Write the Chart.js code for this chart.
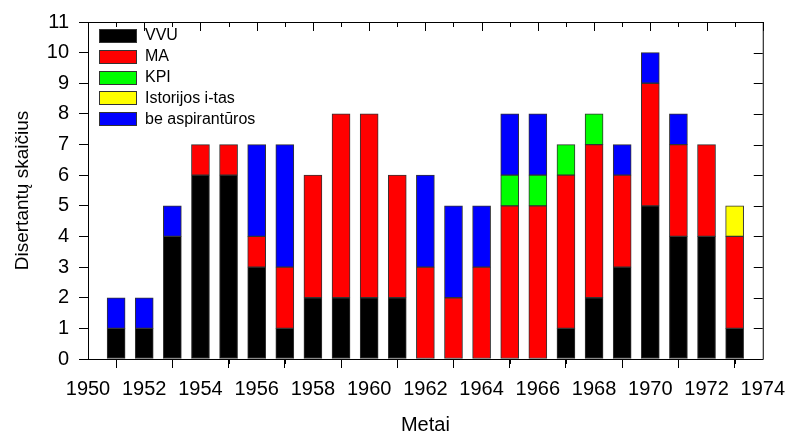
<!DOCTYPE html>
<html>
<head>
<meta charset="utf-8">
<script src="https://cdn.jsdelivr.net/npm/chart.js@4/dist/chart.umd.min.js"></script>
<style>
html,body{margin:0;padding:0;background:#fff;}
canvas{display:block;}
</style>
</head>
<body>
<canvas id="c" width="794" height="434"></canvas>
<script>
const years = [1951,1952,1953,1954,1955,1956,1957,1958,1959,1960,1961,1962,1963,1964,1965,1966,1967,1968,1969,1970,1971,1972,1973];
const vvu   = [1,1,4,6,6,3,1,2,2,2,2,0,0,0,0,0,1,2,3,5,4,4,1];
const ma    = [0,0,0,1,1,1,2,4,6,6,4,3,2,3,5,5,5,5,3,4,3,3,3];
const kpi   = [0,0,0,0,0,0,0,0,0,0,0,0,0,0,1,1,1,1,0,0,0,0,0];
const ist   = [0,0,0,0,0,0,0,0,0,0,0,0,0,0,0,0,0,0,0,0,0,0,1];
const be    = [1,1,1,0,0,3,4,0,0,0,0,3,3,2,2,2,0,0,1,1,1,0,0];
const seriesNames = ['VVU','MA','KPI','Istorijos i-tas','be aspirantūros'];
const seriesColors = ['#000000','#ff0000','#00ff00','#ffff00','#0000ff'];
const seriesValues = [vvu, ma, kpi, ist, be];

const FONT = "'Liberation Sans', Arial, sans-serif";

const datasets = seriesValues.map((vals, k) => ({
  label: seriesNames[k],
  data: years.map((yr, i) => ({x: yr, y: vals[i]})),
  backgroundColor: seriesColors[k],
  borderColor: '#333333',
  borderWidth: 1,
  borderSkipped: false,
  barThickness: 18
}));

const framePlugin = {
  id: 'frame',
  afterDraw(chart) {
    const ctx = chart.ctx;
    const a = chart.chartArea;
    const xs = chart.scales.x, ys = chart.scales.y;
    ctx.save();
    ctx.strokeStyle = '#000';
    ctx.lineWidth = 1;
    ctx.beginPath();
    ctx.rect(a.left + 0.5, a.top + 0.5, a.right - a.left, a.bottom - a.top);
    ctx.stroke();
    ctx.beginPath();
    xs.ticks.forEach(t => {
      const px = Math.round(xs.getPixelForValue(t.value)) + 0.5;
      ctx.moveTo(px, a.top); ctx.lineTo(px, a.top + 9);
      const mv = t.value + 1;
      if (mv < xs.max) {
        const mx = Math.round(xs.getPixelForValue(mv)) + 0.5;
        ctx.moveTo(mx, a.top); ctx.lineTo(mx, a.top + 5);
        ctx.moveTo(mx, a.bottom); ctx.lineTo(mx, a.bottom + 5);
      }
    });
    ys.ticks.forEach(t => {
      const py = Math.round(ys.getPixelForValue(t.value)) + 0.5;
      ctx.moveTo(a.right, py); ctx.lineTo(a.right - 9, py);
    });
    ctx.stroke();
    // legend
    ctx.font = '16px ' + FONT;
    ctx.textBaseline = 'middle';
    ctx.textAlign = 'left';
    chart.data.datasets.forEach((ds, i) => {
      const cy = 35 + i * 20.8;
      ctx.fillStyle = ds.backgroundColor;
      ctx.fillRect(99, Math.round(cy - 6), 37, 13);
      ctx.strokeStyle = '#333';
      ctx.strokeRect(99.5, Math.round(cy - 6) + 0.5, 37, 13);
      ctx.fillStyle = '#000';
      ctx.fillText(ds.label, 145, cy + 1);
    });
    ctx.restore();
  }
};

new Chart(document.getElementById('c'), {
  type: 'bar',
  data: { datasets },
  options: {
    responsive: false,
    animation: false,
    layout: { padding: { top: 19, right: 26, left: 0, bottom: 0 } },
    plugins: { legend: { display: false }, tooltip: { enabled: false } },
    scales: {
      x: {
        type: 'linear',
        stacked: true,
        min: 1950, max: 1974,
        offset: false,
        afterFit(s) { s.height = 75; },
        ticks: { stepSize: 2, color: '#000', font: { family: FONT, size: 20 }, padding: 9, maxRotation: 0, autoSkip: false, callback: v => String(v) },
        grid: { drawOnChartArea: false, drawTicks: true, tickLength: 9, color: '#000' },
        border: { display: true, color: '#000' },
        title: { display: true, text: 'Metai', color: '#000', font: { family: FONT, size: 20, lineHeight: 1 }, padding: { top: 0, bottom: -1 } }
      },
      y: {
        stacked: true,
        min: 0, max: 11,
        afterFit(s) { s.width = 88; },
        ticks: { stepSize: 1, color: '#000', font: { family: FONT, size: 20 }, padding: 10 },
        grid: { drawOnChartArea: false, drawTicks: true, tickLength: 9, color: '#000' },
        border: { display: true, color: '#000' },
        title: { display: true, text: 'Disertantų skaičius', color: '#000', font: { family: FONT, size: 19, lineHeight: 1 }, padding: { top: 13, bottom: 0 } }
      }
    }
  },
  plugins: [framePlugin]
});
</script>
</body>
</html>
